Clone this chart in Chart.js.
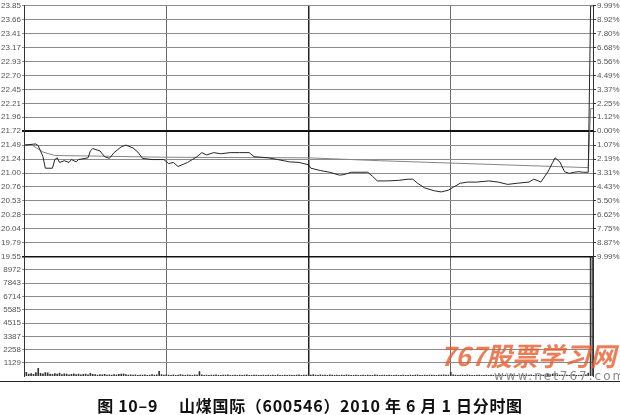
<!DOCTYPE html>
<html>
<head>
<meta charset="utf-8">
<script src="https://cdn.jsdelivr.net/npm/chart.js@4/dist/chart.umd.min.js"></script>
<style>
  body { margin: 0; background: #fff; }
  #wrap { position: relative; width: 620px; height: 415px; overflow: hidden; }
  #box { position: absolute; left: 0; top: 0; width: 620px; height: 382px; }
  #base { position: absolute; left: 0; top: 381px; width: 620px; height: 0; border-top: 1px solid #222; }
  #mark { position: absolute; left: 440px; top: 336px; font: italic bold 26px "Noto Sans CJK SC", sans-serif; color: rgba(232, 92, 44, 0.8); white-space: nowrap; }
  #site { position: absolute; left: 494px; top: 369px; font: 12px "DejaVu Sans", sans-serif; color: #8a8a8a; letter-spacing: 2px; white-space: nowrap; }
  #cap { position: absolute; left: 0; top: 393px; width: 620px; text-align: center; font: bold 16px "Noto Sans CJK SC", sans-serif; color: #111; white-space: pre; letter-spacing: 0.7px; }
</style>
</head>
<body>
<div id="wrap">
  <div id="box"><canvas id="myChart"></canvas></div>
  <div id="base"></div>
  <div id="mark">767股票学习网</div>
  <div id="site">www.net767.com</div>
  <div id="cap">图 10–9　 山煤国际（600546）2010 年 6 月 1 日分时图</div>
</div>
<script>
// minute of the session (0 = 9:30, 240 = 15:00) and price
const priceMin = [0, 5, 6, 8, 9, 12, 13, 14, 15, 17, 19, 20, 22, 23, 27, 28, 29, 32, 34, 36,
  38, 41, 43, 46, 48, 50, 54, 59, 61, 63, 65, 69, 71, 73, 75, 77, 80, 83, 87, 91,
  95, 97, 103, 107, 112, 116, 120, 121, 125, 129, 133, 135, 138, 145, 147, 149, 153, 158, 162, 164,
  166, 169, 173, 176, 179, 181, 184, 187, 191, 196, 200, 204, 208, 213, 215, 217, 218, 221, 223, 224,
  226, 228, 230, 232, 234, 236, 238, 239, 240];
const priceVal = [21.48, 21.50, 21.47, 21.28, 21.08, 21.08, 21.23, 21.26, 21.18, 21.21, 21.18, 21.23, 21.19, 21.23, 21.26, 21.38, 21.42, 21.38, 21.28, 21.25,
  21.35, 21.45, 21.48, 21.43, 21.36, 21.25, 21.23, 21.23, 21.16, 21.18, 21.11, 21.18, 21.23, 21.28, 21.35, 21.31, 21.35, 21.33, 21.35, 21.35,
  21.35, 21.28, 21.26, 21.23, 21.19, 21.18, 21.14, 21.08, 21.04, 21.01, 20.96, 20.97, 21.01, 21.01, 20.94, 20.86, 20.86, 20.87, 20.89, 20.89,
  20.82, 20.74, 20.69, 20.67, 20.70, 20.75, 20.82, 20.84, 20.84, 20.86, 20.84, 20.80, 20.82, 20.84, 20.89, 20.86, 20.84, 21.02, 21.18, 21.26,
  21.19, 21.02, 20.99, 21.01, 21.02, 21.01, 21.01, 23.89, 23.89];

// average price line
const avgMin = [0, 3, 8, 13, 30, 60, 120, 150, 238, 239, 240];
const avgVal = [21.48, 21.49, 21.36, 21.30, 21.29, 21.27, 21.26, 21.21, 21.09, 22.11, 22.11];

// volume per minute
const volume = [
  250, 330, 180, 220, 160, 300, 660, 240, 200, 310,
  280, 190, 150, 230, 170, 260, 140, 200, 180, 120,
  160, 210, 130, 170, 110, 150, 190, 120, 250, 160,
  130, 90, 140, 110, 160, 100, 120, 90, 130, 110,
  150, 180, 210, 130, 100, 120, 90, 110, 80, 100,
  90, 120, 80, 100, 130, 90, 110, 420, 140, 100,
  120, 90, 80, 110, 70, 100, 130, 90, 80, 110,
  100, 80, 120, 90, 400, 110, 80, 90, 70, 100,
  90, 110, 80, 70, 100, 90, 120, 80, 70, 90,
  80, 100, 70, 90, 110, 80, 70, 100, 90, 80,
  70, 90, 80, 100, 70, 90, 80, 110, 70, 80,
  90, 70, 100, 80, 70, 90, 120, 80, 100, 90,
  110, 90, 130, 100, 80, 120, 90, 100, 80, 110,
  90, 80, 100, 70, 90, 80, 110, 90, 80, 70,
  90, 80, 70, 100, 80, 90, 70, 80, 110, 90,
  80, 70, 90, 80, 100, 70, 80, 90, 70, 80,
  90, 80, 70, 100, 80, 90, 110, 80, 70, 90,
  80, 100, 90, 80, 70, 90, 100, 120, 90, 100,
  330, 110, 90, 80, 100, 90, 80, 110, 90, 80,
  70, 90, 100, 80, 70, 90, 80, 100, 70, 90,
  80, 90, 70, 100, 80, 90, 110, 80, 70, 100,
  90, 80, 100, 90, 120, 80, 90, 100, 110, 90,
  130, 150, 120, 180, 140, 110, 90, 100, 80, 90,
  80, 100, 90, 70, 80, 90, 100, 110, 260, 10150,
  10150];

// axis labels, top to bottom
const priceLabels = ['23.85', '23.66', '23.41', '23.17', '22.93', '22.70', '22.45', '22.21', '21.96', '21.72',
  '21.49', '21.24', '21.00', '20.76', '20.53', '20.28', '20.04', '19.79', '19.55'];
const pctLabels = ['9.99%', '8.92%', '7.80%', '6.68%', '5.56%', '4.49%', '3.37%', '2.25%', '1.12%', '0.00%',
  '1.07%', '2.19%', '3.31%', '4.43%', '5.50%', '6.62%', '7.75%', '8.87%', '9.99%'];
const volLabels = ['', '8972', '7843', '6714', '5585', '4515', '3387', '2258', '1129', ''];

const PMIN = 19.55, PMAX = 23.89, VMAX = 10161;
const tickFont = { family: 'Liberation Sans', size: 8 };

function evenTicks(min, max, n) {
  return function (scale) {
    scale.ticks = [];
    for (let i = 0; i < n; i++) scale.ticks.push({ value: min + i * (max - min) / (n - 1) });
  };
}
function fixWidth(w) {
  return function (scale) { scale.width = w; };
}
function priceGrid(ctx) {
  if (ctx.index === 9) return 2;
  if (ctx.index === 0) return 1.5;
  return 1;
}

const data = {
  datasets: [{
    type: 'line',
    label: 'price',
    data: priceMin.map((m, i) => ({ x: m, y: priceVal[i] })),
    borderColor: '#262626',
    borderWidth: 1,
    pointRadius: 0,
    tension: 0,
    yAxisID: 'y',
  }, {
    type: 'line',
    label: 'avg',
    data: avgMin.map((m, i) => ({ x: m, y: avgVal[i] })),
    borderColor: '#858585',
    borderWidth: 1,
    pointRadius: 0,
    tension: 0,
    yAxisID: 'y',
  }, {
    type: 'bar',
    label: 'vol',
    data: volume.map((v, i) => ({ x: i, y: v })),
    backgroundColor: '#333',
    barThickness: 1,
    yAxisID: 'yv',
  }]
};

const config = {
  data: data,
  options: {
    responsive: true,
    maintainAspectRatio: false,
    animation: false,
    layout: { padding: { top: 3, bottom: 1, left: 0, right: 0 } },
    plugins: { legend: { display: false }, tooltip: { enabled: false } },
    scales: {
      x: {
        type: 'linear',
        min: 0,
        max: 240,
        offset: false,
        ticks: { display: false, stepSize: 60 },
        grid: {
          offset: false,
          drawTicks: false,
          color: (ctx) => ctx.tick && ctx.tick.value === 120 ? '#222' : '#6a6a6a',
          lineWidth: (ctx) => ctx.tick && ctx.tick.value === 120 ? 1.5 : 1,
        },
        border: { display: false },
      },
      y: {
        type: 'linear',
        position: 'left',
        stack: 'l',
        stackWeight: 256,
        weight: 2,
        min: PMIN,
        max: PMAX,
        afterBuildTicks: evenTicks(PMIN, PMAX, 19),
        afterFit: fixWidth(24),
        ticks: {
          autoSkip: false,
          font: tickFont,
          color: '#555',
          padding: 1,
          callback: (v, i) => priceLabels[18 - i],
        },
        grid: {
          color: (ctx) => (ctx.index === 9 || ctx.index === 0) ? '#111' : '#8c8c8c',
          lineWidth: priceGrid,
          tickLength: 2,
        },
        border: { color: '#333' },
      },
      yv: {
        type: 'linear',
        position: 'left',
        stack: 'l',
        stackWeight: 122,
        weight: 1,
        min: 0,
        max: VMAX,
        afterBuildTicks: evenTicks(0, VMAX, 10),
        afterFit: fixWidth(24),
        ticks: {
          autoSkip: false,
          font: tickFont,
          color: '#555',
          padding: 1,
          callback: (v, i) => volLabels[9 - i],
        },
        grid: {
          color: (ctx) => ctx.index === 9 || ctx.index === 0 ? 'rgba(0,0,0,0)' : '#8c8c8c',
          tickLength: 2,
        },
        border: { color: '#333' },
      },
      yp: {
        type: 'linear',
        position: 'right',
        stack: 'r',
        stackWeight: 256,
        weight: 1,
        min: PMIN,
        max: PMAX,
        afterBuildTicks: evenTicks(PMIN, PMAX, 19),
        afterFit: fixWidth(27),
        ticks: {
          autoSkip: false,
          font: tickFont,
          color: '#555',
          padding: 1,
          callback: (v, i) => pctLabels[18 - i],
        },
        grid: { drawOnChartArea: false, color: '#333', tickLength: 3 },
        border: { color: '#333' },
      },
      yv2: {
        type: 'linear',
        position: 'right',
        stack: 'r',
        stackWeight: 122,
        weight: 2,
        min: 0,
        max: VMAX,
        afterFit: fixWidth(27),
        ticks: { display: false },
        grid: { display: false },
        border: { color: '#333' },
      },
    },
  },
};

const myChart = new Chart(document.getElementById('myChart'), config);
</script>
</body>
</html>
